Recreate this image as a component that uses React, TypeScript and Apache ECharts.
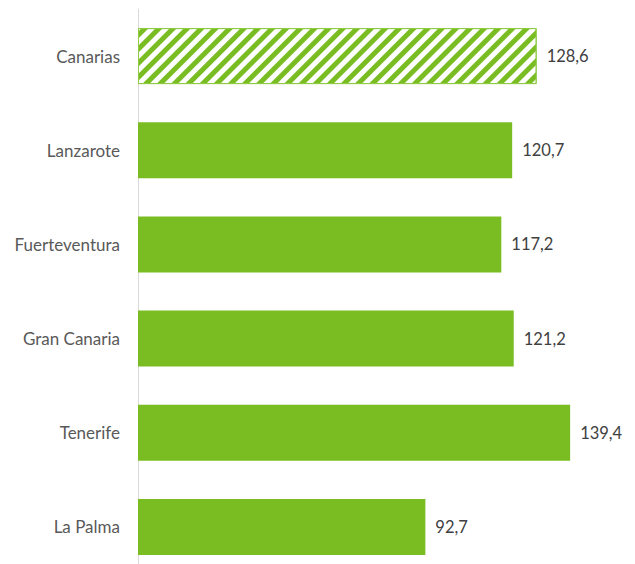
import React, { useEffect, useRef } from "react";
import * as echarts from "echarts";

const categories = ["Canarias", "Lanzarote", "Fuerteventura", "Gran Canaria", "Tenerife", "La Palma"];
const values = [128.6, 120.7, 117.2, 121.2, 139.4, 92.7];
const hatchedIndex = 0;

const GREEN = "#79BD23";

export default function App() {
  const ref = useRef<HTMLDivElement>(null);
  useEffect(() => {
    if (!ref.current) return;
    const chart = echarts.init(ref.current, undefined, { renderer: "svg" });
    const data = values.map((v, i) =>
      i === hatchedIndex
        ? {
            value: v,
            itemStyle: {
              color: "#ffffff",
              borderColor: "#8FCB45",
              borderWidth: 1,
              decal: {
                symbol: "rect",
                symbolSize: 1,
                dashArrayX: [1, 0],
                dashArrayY: [4.5, 4.8],
                rotation: -Math.PI / 4,
                color: GREEN,
              },
            },
          }
        : { value: v }
    );
    chart.setOption({
      animation: false,
      grid: {
        left: 138,
        top: 9,
        width: 465,
        height: 565,
        containLabel: false,
        outerBoundsMode: "none",
      },
      xAxis: {
        type: "value",
        min: 0,
        max: 150,
        show: false,
      },
      yAxis: {
        type: "category",
        data: categories,
        inverse: true,
        axisLine: { show: true, lineStyle: { color: "#D9D9D9", width: 1 } },
        axisTick: { show: false },
        axisLabel: {
          color: "#595959",
          fontSize: 17,
          fontFamily: "Lato",
          margin: 18,
        },
        splitLine: { show: false },
      },
      series: [
        {
          type: "bar",
          data,
          barWidth: 56,
          itemStyle: { color: GREEN },
          label: {
            show: true,
            position: "right",
            distance: 10,
            color: "#404040",
            fontSize: 16.5,
            fontFamily: "Lato",
            formatter: (p: any) => String(p.value).replace(".", ","),
          },
        },
      ],
    });
    return () => chart.dispose();
  }, []);
  return (
    <div
      ref={ref}
      style={{ position: "absolute", left: 0, top: 0, width: 635, height: 564, background: "#fff" }}
    />
  );
}
